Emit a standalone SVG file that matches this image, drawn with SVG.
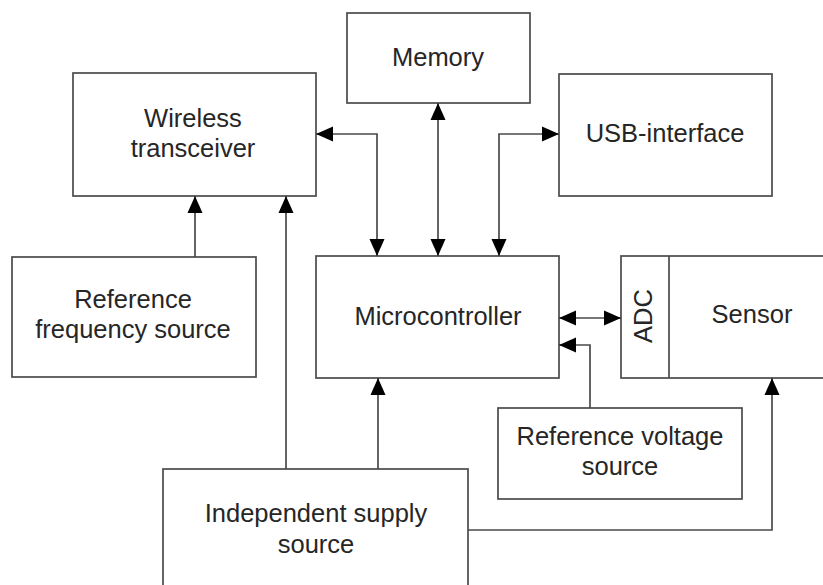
<svg xmlns="http://www.w3.org/2000/svg" width="823" height="585" viewBox="0 0 823 585">
  <style>
    .box { fill: #ffffff; stroke: #4a4a4a; stroke-width: 1.7; }
    .lbl { font-family: "Liberation Sans", Arial, sans-serif; font-size: 25.5px; fill: #262626; text-anchor: middle; }
    .wire { fill: none; stroke: #4a4a4a; stroke-width: 1.7; }
  </style>
  <defs>
    <marker id="arrow" markerUnits="userSpaceOnUse" markerWidth="18" markerHeight="16" viewBox="0 0 18 16" refX="17" refY="8" orient="auto-start-reverse">
      <path d="M0,0.5 L17,8 L0,15.5 z" fill="#000000"/>
    </marker>
  </defs>
  <rect width="823" height="585" fill="#ffffff"/>

  <g id="memory">
    <rect class="box" x="347" y="13" width="183" height="90"/>
    <text class="lbl" x="438" y="66">Memory</text>
  </g>

  <g id="wireless-transceiver">
    <rect class="box" x="73" y="73" width="243" height="123"/>
    <text class="lbl" x="193" y="127">Wireless</text>
    <text class="lbl" x="193" y="157">transceiver</text>
  </g>

  <g id="usb-interface">
    <rect class="box" x="559" y="74" width="213" height="122"/>
    <text class="lbl" x="665" y="142">USB-interface</text>
  </g>

  <g id="reference-frequency-source">
    <rect class="box" x="12" y="257" width="244" height="120"/>
    <text class="lbl" x="133" y="308">Reference</text>
    <text class="lbl" x="133" y="338">frequency source</text>
  </g>

  <g id="microcontroller">
    <rect class="box" x="316" y="256" width="243" height="122"/>
    <text class="lbl" x="438" y="325">Microcontroller</text>
  </g>

  <g id="sensor">
    <rect class="box" x="621" y="256" width="220" height="122"/>
    <line class="wire" x1="669" y1="256" x2="669" y2="378"/>
    <text class="lbl" x="752" y="323">Sensor</text>
    <text class="lbl" transform="translate(652,316) rotate(-90)">ADC</text>
  </g>

  <g id="reference-voltage-source">
    <rect class="box" x="498" y="408" width="244" height="91"/>
    <text class="lbl" x="620" y="445">Reference voltage</text>
    <text class="lbl" x="620" y="475">source</text>
  </g>

  <g id="independent-supply-source">
    <rect class="box" x="163" y="469" width="305" height="130"/>
    <text class="lbl" x="316" y="522">Independent supply</text>
    <text class="lbl" x="316" y="553">source</text>
  </g>

  <g id="connectors">
    <path class="wire" d="M195,257 V196" marker-end="url(#arrow)"/>
    <path class="wire" d="M286,469 V196" marker-end="url(#arrow)"/>
    <path class="wire" d="M378,469 V378" marker-end="url(#arrow)"/>
    <path class="wire" d="M377,256 V134 H316" marker-start="url(#arrow)" marker-end="url(#arrow)"/>
    <path class="wire" d="M438,256 V103" marker-start="url(#arrow)" marker-end="url(#arrow)"/>
    <path class="wire" d="M499,256 V134 H559" marker-start="url(#arrow)" marker-end="url(#arrow)"/>
    <path class="wire" d="M559,318 H621" marker-start="url(#arrow)" marker-end="url(#arrow)"/>
    <path class="wire" d="M590,408 V345 H559" marker-end="url(#arrow)"/>
    <path class="wire" d="M468,530 H772 V378" marker-end="url(#arrow)"/>
  </g>
</svg>
